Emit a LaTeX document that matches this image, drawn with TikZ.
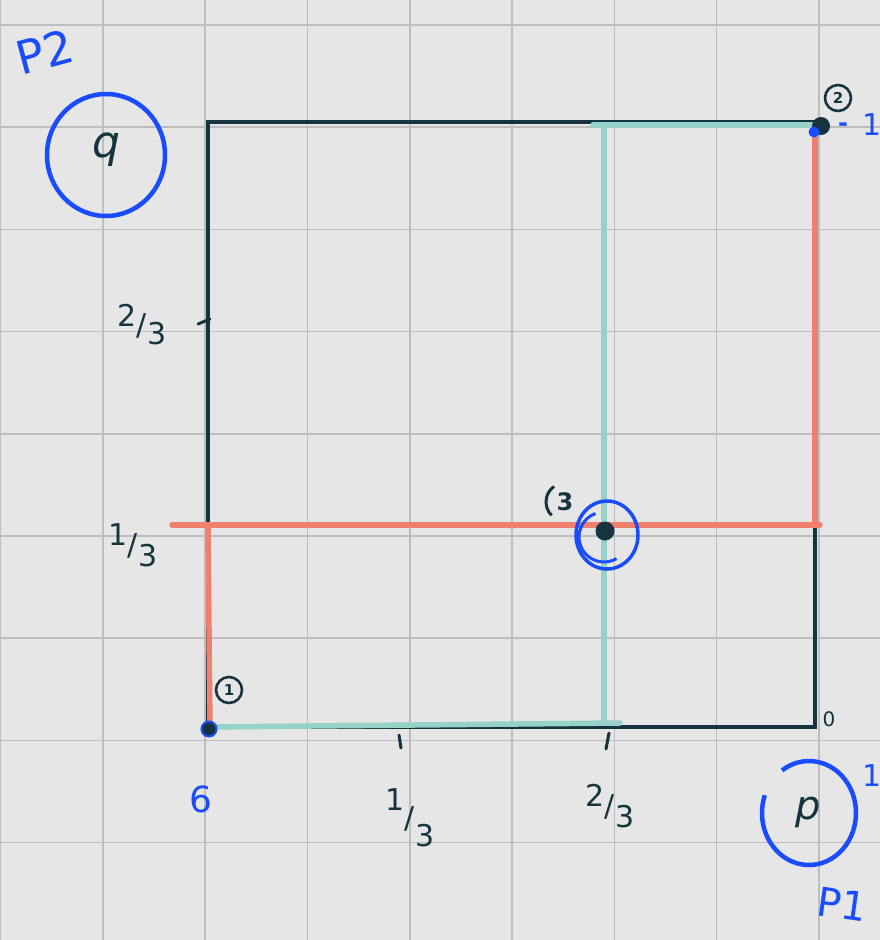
\documentclass[tikz,border=0pt]{standalone}
\usepackage{fontspec}
\setmainfont{DejaVu Sans}
\definecolor{bgc}{HTML}{E6E6E6}
\definecolor{gridc}{HTML}{BDBDBD}
\definecolor{dark}{HTML}{15343F}
\definecolor{penblue}{HTML}{1A4CFF}
\definecolor{salmon}{HTML}{F0806E}
\definecolor{teal}{HTML}{96D2C8}
\newcommand\hfr[3]{\raisebox{#3}{#1}/\raisebox{-#3}{#2}}
\begin{document}
\begin{tikzpicture}[x=1pt,y=-1pt,
  gridline/.style={draw=gridc, line width=1.6pt},
  sq/.style={draw=dark, line width=4.5pt, line join=miter},
  redpen/.style={draw=salmon, line width=5.5pt, line cap=round},
  tealpen/.style={draw=teal, line width=5.5pt, line cap=round},
  darklbl/.style={text=dark, font=\fontsize{30}{34}\selectfont, inner sep=0pt},
  bluelbl/.style={text=penblue, font=\fontsize{36}{40}\selectfont, inner sep=0pt},
  smallnum/.style={circle, draw=dark, line width=2.6pt, text=dark, inner sep=1pt, minimum size=26pt, font=\fontsize{15}{16}\selectfont\bfseries},
  tick/.style={draw=dark, line width=3pt, line cap=round}]
\fill[bgc] (0,0) rectangle (880,940);
\useasboundingbox (0,0) rectangle (880,940);
% grid
\foreach \i in {0,...,8} \draw[gridline] ({0.5+102.3*\i},0) -- ({0.5+102.3*\i},940);
\foreach \j in {0,...,8} \draw[gridline] (0,{25+102.2*\j}) -- (880,{25+102.2*\j});
% square corners
\coordinate (O) at (208,727);
\coordinate (A) at (815,727);
\coordinate (B) at (815,122);
\coordinate (C) at (208,122);
\draw[sq] (C) -- (B) -- (A) -- (O) -- cycle;
% teal segments
\coordinate (t1) at (207,727);
\coordinate (t2) at (620,723);
\coordinate (t3) at (604,128);
\coordinate (t4) at (604,723);
\coordinate (t5) at (593,125);
\coordinate (t6) at (815,125);
\draw[tealpen] (t1) -- (t2);
\draw[tealpen] (t3) -- (t4);
\draw[tealpen] (t5) -- (t6);
% red segments
\coordinate (r1) at (172,525);
\coordinate (r2) at (820,525);
\coordinate (r3) at (208,527);
\coordinate (r4) at (210,730);
\coordinate (r5) at (815,130);
\coordinate (r6) at (815,525);
\draw[redpen] (r1) -- (r2);
\draw[redpen] (r3) -- (r4);
\draw[redpen] (r5) -- (r6);
% ticks
\coordinate (k1a) at (198,324); \coordinate (k1b) at (210,319);
\draw[tick] (k1a) -- (k1b);
\coordinate (k2a) at (399,735); \coordinate (k2b) at (401,748);
\draw[tick] (k2a) -- (k2b);
\coordinate (k3a) at (609,733); \coordinate (k3b) at (606,749);
\draw[tick] (k3a) -- (k3b);
% points
\node[circle, fill=dark, draw=penblue, line width=2pt, minimum size=15pt, inner sep=0pt] (p1) at (209,729) {};
\node[circle, fill=dark, minimum size=18pt, inner sep=0pt] (p2) at (821,126) {};
\node[circle, fill=penblue, minimum size=11pt, inner sep=0pt] (p2b) at (814,132) {};
\node[circle, fill=dark, minimum size=19pt, inner sep=0pt] (p3) at (605,531) {};
\draw[penblue, line width=3.5pt] (p3) ++(2,4) circle[x radius=31, y radius=34];
\draw[penblue, line width=3pt] (604,537) ++(250:25) arc[start angle=250, end angle=60, radius=25];
% circled numbers
\node[smallnum] (n1) at (229,690) {1};
\node[smallnum] (n2) at (838,98) {2};
\node[text=dark, inner sep=0pt, font=\fontsize{24}{26}\selectfont\bfseries] (n3) at (565,502) {3};
\draw[dark, line width=3pt] (n3) ++(135:19) arc[start angle=135, end angle=235, radius=19];
% axis labels
\node[darklbl] (l23) at (142,325) {\hfr{2}{3}{0.3em}};
\node[darklbl] (l13) at (133,545) {\hfr{1}{3}{0.35em}};
\node[darklbl] (b13) at (410,818) {\hfr{1}{3}{0.6em}};
\node[darklbl] (b23) at (610,806) {\hfr{2}{3}{0.35em}};
\node[text=dark, font=\fontsize{20}{22}\selectfont, inner sep=0pt] (zero) at (829,719) {0};
\node[bluelbl] (six) at (201,799) {6};
\node[bluelbl, font=\fontsize{30}{34}\selectfont] (one1) at (872,125) {1};
\node[text=penblue, font=\fontsize{24}{26}\selectfont\bfseries, inner sep=0pt] (dot1) at (843,127) {-};
\node[bluelbl, font=\fontsize{30}{34}\selectfont] (one2) at (872,776) {1};
% player labels
\node[bluelbl, rotate=15, font=\fontsize{46}{50}\selectfont] (P2) at (45,52) {P2};
\node[bluelbl, rotate=-8, font=\fontsize{40}{44}\selectfont] (P1) at (842,904) {P1};
% circled strategy letters
\node[text=dark, font=\fontsize{44}{48}\selectfont\itshape, inner sep=0pt] (q) at (106,150) {q};
\draw[penblue, line width=4.5pt] (q) ++(0,5) circle[x radius=59, y radius=61];
\node[text=dark, font=\fontsize{40}{44}\selectfont\itshape, inner sep=0pt] (p) at (808,812) {p};
\draw[penblue, line width=4.5pt] (809,813) ++(235:47 and 52) arc[start angle=235, end angle=560, x radius=47, y radius=52];
\end{tikzpicture}
\end{document}
